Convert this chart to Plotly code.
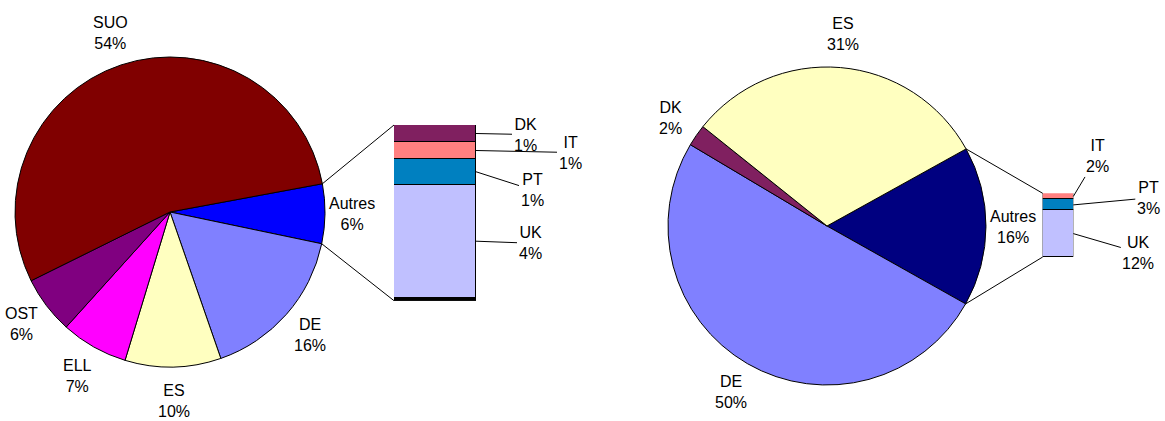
import math
import plotly.graph_objects as go

W, H = 1165, 421

# left chart
pie1_labels = ["Autres", "DE", "ES", "ELL", "OST", "SUO"]
pie1_values = [6.2, 16.4, 10.0, 7.0, 6.0, 54.4]
pie1_colors = ["#0000FF", "#8080FF", "#FFFFC0", "#FF00FF", "#800080", "#800000"]
bar1_labels = ["", "UK", "PT", "IT", "DK"]          # bottom to top
bar1_values = [0.1, 4.0, 0.9, 0.6, 0.6]
bar1_colors = ["#000000", "#C0C0FF", "#0080C0", "#FF8080", "#802060"]

# right chart
pie2_labels = ["Autres", "DE", "DK", "ES"]
pie2_values = [16.2, 50.4, 2.2, 31.2]
pie2_colors = ["#000080", "#8080FF", "#802060", "#FFFFC0"]
bar2_labels = ["UK", "PT", "IT"]                    # bottom to top
bar2_values = [11.9, 2.7, 1.6]
bar2_colors = ["#C0C0FF", "#0080C0", "#FF8080"]

FONT = dict(family="Liberation Sans, Arial, sans-serif", size=16, color="black")


def px_x(x):
    return x / W


def px_y(y):
    return 1 - y / H


# pie geometry in pixels: centre and radius, plus rotation
p1_cx, p1_cy, p1_r, p1_rot = 170, 212, 155, 79.5
p2_cx, p2_cy, p2_r, p2_rot = 827, 226, 159, 61.0
# bar boxes in pixels: left, right, top, bottom
b1 = (394, 476, 125, 300.7)
b2 = (1042.7, 1073.3, 193.3, 257)

fig = go.Figure()

pies = [
    (pie1_labels, pie1_values, pie1_colors, (p1_cx, p1_cy, p1_r), p1_rot),
    (pie2_labels, pie2_values, pie2_colors, (p2_cx, p2_cy, p2_r), p2_rot),
]

for labels, values, colors, (cx, cy, r), rot in pies:
    fig.add_trace(go.Pie(
        labels=labels, values=values, sort=False, direction="clockwise",
        rotation=rot, textinfo="none",
        marker=dict(colors=colors, line=dict(color="black", width=1)),
        showlegend=False, hoverinfo="label+percent",
        domain=dict(x=[px_x(cx - r), px_x(cx + r)],
                    y=[px_y(cy + r), px_y(cy - r)]),
    ))
    # slice labels, placed outside each slice at its middle angle
    total = sum(values)
    start = 90 - rot
    for lab, v in zip(labels, values):
        span = 360 * v / total
        mid = math.radians(start - span / 2)
        start -= span
        d = r + 27 + 7 * abs(math.sin(mid))
        fig.add_annotation(
            x=px_x(cx + d * math.cos(mid)), y=px_y(cy - d * math.sin(mid)),
            xref="paper", yref="paper", xanchor="center", yanchor="middle",
            text=f"{lab}<br>{round(v / total * 100):.0f}%",
            showarrow=False, font=FONT,
        )

for labels, values, colors, ax_id in [
    (bar1_labels, bar1_values, bar1_colors, "1"),
    (bar2_labels, bar2_values, bar2_colors, "2"),
]:
    for lab, v, c in zip(labels, values, colors):
        fig.add_trace(go.Bar(
            x=[0], y=[v], width=1, name=lab, showlegend=False,
            marker=dict(color=c, line=dict(color="black", width=1)),
            xaxis="x" if ax_id == "1" else "x2",
            yaxis="y" if ax_id == "1" else "y2",
        ))

hidden = dict(visible=False, showgrid=False, zeroline=False, fixedrange=True)
fig.update_layout(
    width=W, height=H, margin=dict(l=0, r=0, t=0, b=0),
    paper_bgcolor="white", plot_bgcolor="rgba(0,0,0,0)",
    barmode="stack", bargap=0, font=FONT,
    xaxis=dict(domain=[px_x(b1[0]), px_x(b1[1])], range=[-0.5, 0.5], **hidden),
    yaxis=dict(domain=[px_y(b1[3]), px_y(b1[2])], range=[0, sum(bar1_values)], **hidden),
    xaxis2=dict(domain=[px_x(b2[0]), px_x(b2[1])], range=[-0.5, 0.5], anchor="y2", **hidden),
    yaxis2=dict(domain=[px_y(b2[3]), px_y(b2[2])], range=[0, sum(bar2_values)], anchor="x2", **hidden),
)

# connector lines from the "Autres" slice to the bar
for (labels, values, colors, (cx, cy, r), rot), box in zip(pies, [b1, b2]):
    a0 = math.radians(90 - rot)
    a1 = a0 - 2 * math.pi * values[0] / sum(values)
    for a, by in [(a0, box[2]), (a1, box[3])]:
        fig.add_shape(type="line", xref="paper", yref="paper",
                      x0=px_x(cx + r * math.cos(a)), y0=px_y(cy - r * math.sin(a)),
                      x1=px_x(box[0]), y1=px_y(by),
                      line=dict(color="black", width=1))

# bar segment labels with leader lines
offsets1 = {"UK": (54, 2), "PT": (56, 18), "IT": (94, 2), "DK": (49, 1)}
offsets2 = {"UK": (65, 19), "PT": (75, -7), "IT": (24, -40)}
for labels, values, offs, xr, yr, pie_total in [
    (bar1_labels, bar1_values, offsets1, "x", "y", sum(pie1_values)),
    (bar2_labels, bar2_values, offsets2, "x2", "y2", sum(pie2_values)),
]:
    base = 0
    for lab, v in zip(labels, values):
        mid = base + v / 2
        base += v
        if not lab:
            continue
        ax, ay = offs[lab]
        fig.add_annotation(
            x=0.5, y=mid, xref=xr, yref=yr, ax=ax, ay=ay,
            text=f"{lab}<br>{round(v / pie_total * 100):.0f}%",
            showarrow=True, arrowhead=0, arrowwidth=1, arrowcolor="black",
            standoff=0, font=FONT,
        )

fig.write_html("out.html", config={"displayModeBar": False},
               post_script="document.body.style.margin='0';")
